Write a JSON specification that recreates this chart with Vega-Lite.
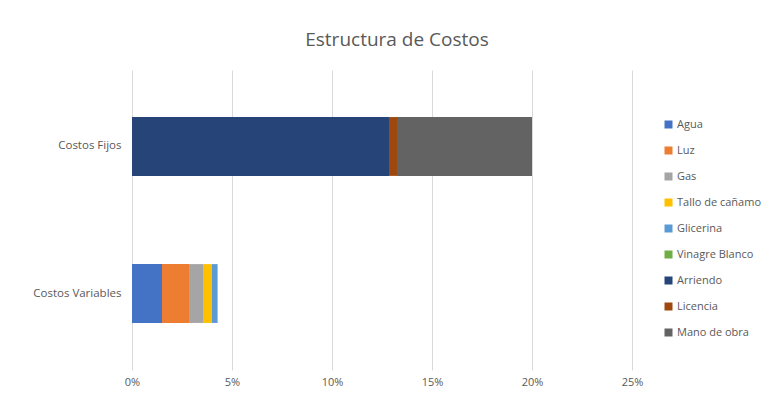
{
  "$schema": "https://vega.github.io/schema/vega-lite/v6.json",
  "width": 500,
  "height": 300,
  "autosize": {"type": "none"},
  "padding": {"left": 132, "top": 70, "right": 140, "bottom": 26},
  "background": "white",
  "config": {"view": {"stroke": null}, "font": "Open Sans"},
  "title": {"text": "Estructura de Costos", "fontSize": 19, "fontWeight": "normal", "color": "#595959", "font": "Open Sans", "anchor": "middle", "offset": 20, "dx": 15},
  "data": {"values": [
    {"categoria": "Costos Fijos", "concepto": "Arriendo", "valor": 0.1285, "orden": 7},
    {"categoria": "Costos Fijos", "concepto": "Licencia", "valor": 0.004, "orden": 8},
    {"categoria": "Costos Fijos", "concepto": "Mano de obra", "valor": 0.0675, "orden": 9},
    {"categoria": "Costos Variables", "concepto": "Agua", "valor": 0.015, "orden": 1},
    {"categoria": "Costos Variables", "concepto": "Luz", "valor": 0.0135, "orden": 2},
    {"categoria": "Costos Variables", "concepto": "Gas", "valor": 0.007, "orden": 3},
    {"categoria": "Costos Variables", "concepto": "Tallo de cañamo", "valor": 0.0045, "orden": 4},
    {"categoria": "Costos Variables", "concepto": "Glicerina", "valor": 0.0025, "orden": 5},
    {"categoria": "Costos Variables", "concepto": "Vinagre Blanco", "valor": 0.0003, "orden": 6}
  ]},
  "mark": {"type": "bar"},
  "encoding": {
    "y": {"field": "categoria", "type": "nominal", "sort": ["Costos Fijos", "Costos Variables"],
      "scale": {"paddingInner": 0.6, "paddingOuter": 0.32},
      "axis": {"title": null, "domain": false, "ticks": false, "labelPadding": 11, "labelFontSize": 11.5, "labelColor": "#595959", "labelFont": "Open Sans"}},
    "x": {"field": "valor", "type": "quantitative", "stack": "zero",
      "scale": {"domain": [0, 0.25], "nice": false},
      "axis": {"title": null, "format": ".0%", "values": [0, 0.05, 0.1, 0.15, 0.2, 0.25], "domain": false, "ticks": false, "labelFlush": false, "labelPadding": 6, "labelFontSize": 11, "labelColor": "#595959", "gridColor": "#d9d9d9", "labelFont": "Open Sans"}},
    "order": {"field": "orden", "type": "quantitative"},
    "color": {"field": "concepto", "type": "nominal",
      "scale": {"domain": ["Agua", "Luz", "Gas", "Tallo de cañamo", "Glicerina", "Vinagre Blanco", "Arriendo", "Licencia", "Mano de obra"],
        "range": ["#4472C4", "#ED7D31", "#A5A5A5", "#FFC000", "#5B9BD5", "#70AD47", "#264478", "#9E480E", "#636363"]},
      "legend": {"title": null, "orient": "none", "legendX": 531, "legendY": 49, "symbolType": "square", "symbolSize": 64, "symbolStrokeWidth": 0, "labelFontSize": 11, "labelColor": "#595959", "labelFont": "Open Sans", "rowPadding": 14, "labelOffset": 3}}
  }
}
